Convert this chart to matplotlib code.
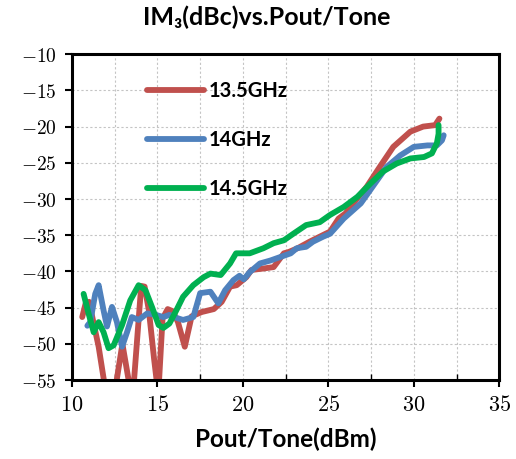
import matplotlib
matplotlib.use('Agg')
import matplotlib.pyplot as plt
from matplotlib.ticker import MultipleLocator, FuncFormatter

plt.rcParams['mathtext.fontset'] = 'cm'

# Data
x_135 = [10.6, 10.8, 11.0, 11.27, 11.56, 11.9, 12.2, 12.55, 12.95, 13.35, 13.6, 14.05, 14.25, 14.5,
         14.8, 15.05, 15.3, 15.6, 15.9, 16.2, 16.6, 17.0, 17.6, 18.3, 18.76, 19.25, 19.64, 20.2,
         20.5, 21.2, 21.8, 22.4, 22.7, 23.2, 23.9, 24.5, 25.1, 25.6, 26.0, 26.6, 27.25, 28.0,
         28.8, 29.8, 30.55, 31.25, 31.5]
y_135 = [-46.3, -44.4, -44.2, -47.2, -50.4, -55.5, -58, -56, -50.0, -55.5, -56, -42.0, -42.1, -45.4,
         -52, -57, -46.5, -45.2, -45.5, -47, -50.4, -46.2, -45.6, -45.2, -44.2, -42.1, -41.9, -40.8,
         -39.8, -39.6, -39.4, -37.5, -37.3, -36.8, -35.9, -35.2, -34.5, -32.7, -32.0, -30.2, -28.3, -25.6,
         -22.8, -20.7, -20.0, -19.8, -18.9]

x_14 = [10.9, 11.07, 11.36, 11.56, 11.85, 12.05, 12.34, 12.63, 12.93, 13.22, 13.5, 13.9, 14.4, 14.9,
        15.35, 15.7, 16.1, 16.5, 17.1, 17.5, 18.1, 18.56, 18.96, 19.45, 19.8, 20.05, 20.4, 21.0,
        21.6, 22.2, 22.8, 23.15, 23.7, 24.1, 24.7, 25.1, 25.9, 26.9, 27.65, 28.4, 29.2, 30.0,
        30.8, 31.35, 31.65, 31.75]
y_14 = [-47.5, -47, -43.1, -41.9, -45.4, -47.6, -44.9, -47, -50.4, -48.4, -46.3, -46.7, -45.8, -46,
        -46.3, -46, -46.4, -46.7, -46.3, -43.0, -42.8, -44.4, -42.6, -41.2, -40.6, -41.1, -40.1, -38.9,
        -38.5, -38, -37.5, -36.8, -36.6, -35.9, -35.2, -34.8, -32.7, -30.6, -28.1, -25.6, -24.0, -22.8,
        -22.6, -22.6, -21.9, -21.2]

x_145 = [10.68, 10.97, 11.27, 11.56, 11.85, 12.14, 12.44, 12.93, 13.41, 13.9, 14.3, 14.68, 15.07,
         15.35, 15.7, 16.1, 16.5, 17.1, 17.7, 18.1, 18.7, 19.25, 19.6, 20.4, 21.2, 21.8, 22.4,
         22.95, 23.7, 24.5, 25.1, 25.9, 26.7, 27.45, 28.2, 29.0, 29.8, 30.6, 31.06, 31.35, 31.45, 31.45]
y_145 = [-43.1, -45.8, -48.4, -47, -48.4, -50.6, -50.2, -47.4, -44, -41.9, -42.6, -44.9, -47.4,
         -47.8, -47.2, -45.4, -43.5, -41.9, -40.8, -40.3, -40.5, -38.9, -37.5, -37.5, -36.8, -36.1, -35.7,
         -34.8, -33.6, -33.2, -32.2, -31.1, -29.7, -27.9, -26.2, -25.1, -24.4, -24.2, -23.7, -22.3, -21.0, -19.8]

labels = ['13.5GHz', '14GHz', '14.5GHz']
colors = ['#C0504D', '#4F81BD', '#00B050']

bold_font = ['Lato', 'DejaVu Sans']

fig = plt.figure(figsize=(5.16, 4.59), dpi=100)
ax = fig.add_axes([0.1395, 0.172, 0.828, 0.710])

for xs, ys, lab, c in zip([x_135, x_14, x_145], [y_135, y_14, y_145], labels, colors):
    ax.plot(xs, ys, color=c, lw=4.2, label=lab, solid_capstyle='round', solid_joinstyle='round')

ax.set_xlim(10, 35)
ax.set_ylim(-55, -10)
ax.xaxis.set_major_locator(MultipleLocator(5))
ax.xaxis.set_minor_locator(MultipleLocator(2.5))
ax.yaxis.set_major_locator(MultipleLocator(5))

fmt = FuncFormatter(lambda v, p: r'$%d$' % round(v))
ax.xaxis.set_major_formatter(fmt)
ax.yaxis.set_major_formatter(fmt)

ax.grid(True, which='both', color='#C4C4C4', linestyle=(0, (2, 2)), linewidth=0.8)
ax.set_axisbelow(True)

for s in ax.spines.values():
    s.set_linewidth(2.2)
    s.set_color('black')

ax.tick_params(axis='both', which='major', direction='out', length=5, width=1.5)
ax.tick_params(axis='x', which='minor', direction='in', length=4, width=1)
ax.tick_params(axis='x', labelsize=16, pad=6)
ax.tick_params(axis='y', labelsize=14, pad=6)

ax.set_xlabel('Pout/Tone(dBm)', fontsize=17.5, fontweight='bold', family=bold_font, labelpad=9)
fig.text(0.517, 0.962, 'IM\u2083(dBc)vs.Pout/Tone', ha='center', va='center',
         fontsize=18, fontweight='bold', family=bold_font)

leg = ax.legend(loc='upper left', bbox_to_anchor=(0.176, 0.919), frameon=False,
                prop={'family': bold_font, 'weight': 'bold', 'size': 14.5},
                handlelength=2.8, handletextpad=0.25, labelspacing=1.45,
                borderpad=0, borderaxespad=0)

fig.savefig('out.png', dpi=100)
